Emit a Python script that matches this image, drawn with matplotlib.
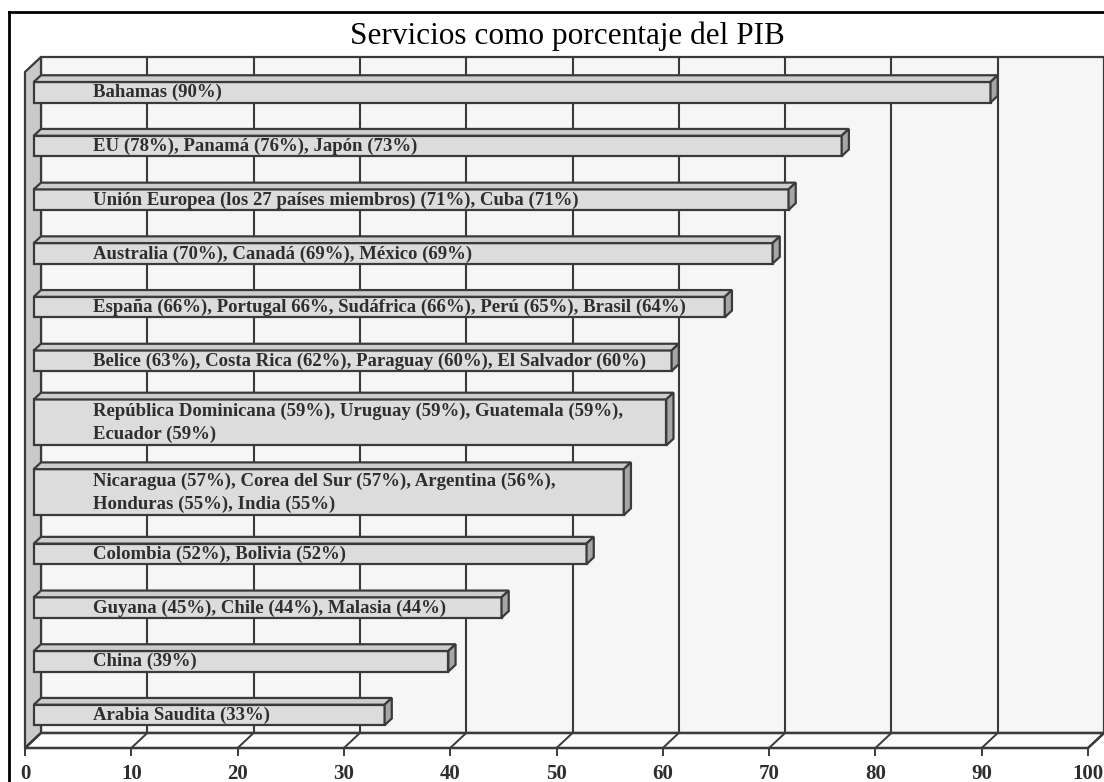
import matplotlib
matplotlib.use("Agg")
import matplotlib.pyplot as plt
from matplotlib.patches import Polygon
from matplotlib.lines import Line2D

# ---------------- data ----------------
title = "Servicios como porcentaje del PIB"
labels = [
    "Bahamas (90%)",
    "EU (78%), Panamá (76%), Japón (73%)",
    "Unión Europea (los 27 países miembros) (71%), Cuba (71%)",
    "Australia (70%), Canadá (69%), México (69%)",
    "España (66%), Portugal 66%, Sudáfrica (66%), Perú (65%), Brasil (64%)",
    "Belice (63%), Costa Rica (62%), Paraguay (60%), El Salvador (60%)",
    "República Dominicana (59%), Uruguay (59%), Guatemala (59%),\nEcuador (59%)",
    "Nicaragua (57%), Corea del Sur (57%), Argentina (56%),\nHonduras (55%), India (55%)",
    "Colombia (52%), Bolivia (52%)",
    "Guyana (45%), Chile (44%), Malasia (44%)",
    "China (39%)",
    "Arabia Saudita (33%)",
]
values = [90, 76, 71, 69.5, 65, 60, 59.5, 55.5, 52, 44, 39, 33]
xticks = [0, 10, 20, 30, 40, 50, 60, 70, 80, 90, 100]
xticklabels = ["0", "10", "20", "30", "40", "50", "60", "70", "80", "90", "100"]

# ---------------- layout ----------------
W, H = 1104, 782
PX_PER_UNIT = 10.63
X0_PX = 25.0
XMAX = 100
DX = 16 / PX_PER_UNIT      # depth offset in value units
DY = -15.0                 # depth offset in y units (y grows downward)
Y_FLOOR = 748.0
Y_TOP = 57.0
FRONT = 0.55               # depth fraction of bar front face
LINE_H = 20.5              # single-line bar height
EXTRA_LINE = 25.5          # additional height per extra text line
PITCH = 53.7
PITCH_EXTRA = 8.0
FIRST_TOP = 82.0

edge = "#3a3a3a"
wall_c = "#f6f6f6"
side_c = "#c9c9c9"
front_c = "#dcdcdc"
top_c = "#cdcdcd"
end_c = "#a6a6a6"
txt_c = "#2e2e2e"
FS = 13.5

fig = plt.figure(figsize=(W / 100, H / 100), dpi=100)
fig.patch.set_facecolor("white")
ax = fig.add_axes([0, 0, 1, 1])
ax.set_xlim(-X0_PX / PX_PER_UNIT, (W - X0_PX) / PX_PER_UNIT)
ax.set_ylim(H, 0)
ax.axis("off")

# back wall
ax.add_patch(Polygon([(DX, Y_FLOOR + DY), (XMAX + DX, Y_FLOOR + DY),
                      (XMAX + DX, Y_TOP), (DX, Y_TOP)], closed=True,
                     facecolor=wall_c, edgecolor=edge, lw=1.6, zorder=1))
# left side wall
ax.add_patch(Polygon([(0, Y_FLOOR), (0, Y_TOP - DY), (DX, Y_TOP), (DX, Y_FLOOR + DY)],
                     closed=True, facecolor=side_c, edgecolor=edge, lw=1.6, zorder=2))
# floor
ax.add_patch(Polygon([(0, Y_FLOOR), (XMAX, Y_FLOOR), (XMAX + DX, Y_FLOOR + DY), (DX, Y_FLOOR + DY)],
                     closed=True, facecolor="#fbfbfb", edgecolor=edge, lw=1.8, zorder=2))
# wall gridlines, floor slants, ticks
for v in xticks:
    if 0 < v < XMAX:
        ax.plot([v + DX, v + DX], [Y_TOP, Y_FLOOR + DY], color=edge, lw=1.5, zorder=1.5)
    ax.plot([v, v + DX], [Y_FLOOR, Y_FLOOR + DY], color=edge, lw=1.4, zorder=2.5)
    ax.plot([v, v], [Y_FLOOR, Y_FLOOR + 7], color=edge, lw=1.4, zorder=2.5)

for v, lab in zip(xticks, xticklabels):
    ax.text(v, 774, lab, ha="center", va="center", fontsize=15, fontweight="bold",
            family="Liberation Serif", color=txt_c)

# bars
nlines = [lab.count("\n") + 1 for lab in labels]
top = FIRST_TOP
bd = 1 - FRONT
for i, (lab, val) in enumerate(zip(labels, values)):
    h = LINE_H + EXTRA_LINE * (nlines[i] - 1)
    y0, y1 = top, top + h
    xl = FRONT * DX
    xr = val + FRONT * DX
    z = 5 + i * 0.01
    # front
    ax.add_patch(Polygon([(xl, y0), (xr, y0), (xr, y1), (xl, y1)], closed=True,
                         facecolor=front_c, edgecolor=edge, lw=1.6, zorder=z))
    # top
    ax.add_patch(Polygon([(xl, y0), (xl + bd * DX, y0 + bd * DY), (xr + bd * DX, y0 + bd * DY), (xr, y0)],
                         closed=True, facecolor=top_c, edgecolor=edge, lw=1.6, zorder=z))
    # end
    ax.add_patch(Polygon([(xr, y0), (xr + bd * DX, y0 + bd * DY), (xr + bd * DX, y1 + bd * DY), (xr, y1)],
                         closed=True, facecolor=end_c, edgecolor=edge, lw=1.6, zorder=z))
    ax.text((93 - X0_PX) / PX_PER_UNIT, (y0 + y1) / 2 + 0.5, lab, ha="left", va="center",
            fontsize=FS, fontweight="bold", family="Liberation Serif", color=txt_c,
            linespacing=1.45, zorder=z + 0.005)
    if i < len(labels) - 1:
        top = (top + h / 2) + PITCH + PITCH_EXTRA * ((nlines[i] - 1) + (nlines[i + 1] - 1)) \
              - (LINE_H + EXTRA_LINE * (nlines[i + 1] - 1)) / 2

# title
fig.text(567 / W, 1 - 36 / H, title, ha="center", va="center", fontsize=22.5,
         family="Liberation Serif", color="black")

# outer frame
fig.add_artist(Line2D([9 / W, 9 / W], [0, 1 - 12 / H], transform=fig.transFigure, color="black", lw=2))
fig.add_artist(Line2D([9 / W, 1], [1 - 12 / H, 1 - 12 / H], transform=fig.transFigure, color="black", lw=2))

fig.savefig("out.png", dpi=100)
